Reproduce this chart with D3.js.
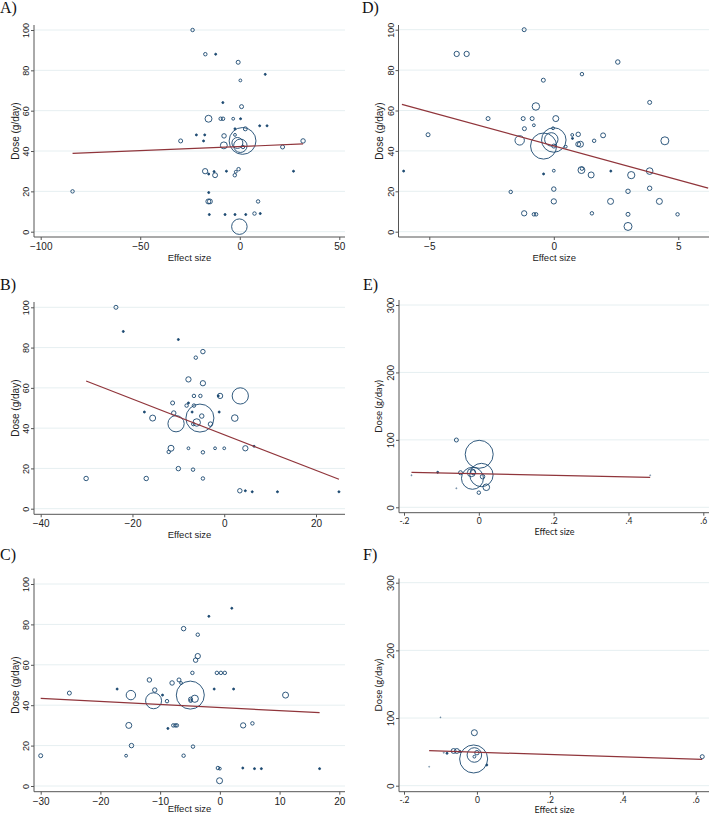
<!DOCTYPE html>
<html>
<head>
<meta charset="utf-8">
<script src="https://cdn.jsdelivr.net/npm/d3@7"></script>
<style>
  body { margin: 0; background: #fff; }
  svg { display: block; }
</style>
</head>
<body>
<svg id="chart" width="709" height="814"></svg>
<script>
// points: [effect size, dose, weight]  (weight -> circle area)
var pointsA = [
  [-23.7,100,3],[-17.3,88,3],[-12.1,88,1],[-0.8,84,4],[12.8,78,1],[0.3,75,2],[-8.5,64,1],[0.9,62,4],
  [-15.7,56,12],[-9.6,56,3],[-8.4,56,3],[-3.3,56,2],[0.4,56,1],[-21.8,48,1],[-17.6,48,1],[-18.2,45,1],
  [-29.7,45,4],[-2.4,51,1],[2.8,51,4],[10,52.5,1],[13.7,52.5,1],[-7.9,47.5,5],[-2.4,48,2],[-8,42.8,12],
  [-1.2,44,30],[0.3,42.6,45],[1.4,45,180],[1.6,42,3],[21.5,42,4],[31.8,45,5],[-17.4,30,7],[-15.6,28.6,1],
  [-12.9,29.8,1],[-12.4,28,6],[-6.7,30,1],[-2.5,28,3],[-2,29.7,2],[-0.6,31,3],[27,30,1],[-84,20,3],
  [-15.6,19.4,1],[-15.8,15,6],[-15,15,6],[9.2,15,3],[-15.3,8.5,1],[-7.4,8.5,1],[-2.4,8.5,1],[3,8.5,1],
  [7.4,9,3],[10.3,9,1],[-0.2,2.5,60]
];
var fitA_x = [-84, 31.8], fitA_y = [38.8, 43.5];

var pointsB = [
  [-23.6,100,4],[-22,88,1],[-10,84,1],[-4.65,78,5],[-6.2,75,3],[-7.8,64.2,7],[-4.65,62.3,7],[-6.6,56,3],
  [-5.2,56,3],[-1.3,56,1],[-0.9,56,7],[3.5,56,66],[-11.25,52.5,4],[-7.8,52.5,1],[-8.2,51.2,3],[-6.6,51.2,3],
  [-17.4,48,1],[-1.1,48,1],[-11,47.5,5],[-7,48,1],[-15.6,45,9],[-10.5,42.2,66],[-5.3,45,196],[-6,42.8,14],
  [-4.9,46,5],[-6.75,42,3],[-3,42,5],[2.3,45,11],[-11.6,30,9],[-12.1,28.2,3],[-7.8,30,2],[-2,30,2],
  [0,30,2],[4.6,30,7],[6.5,31,1],[-4.65,28,3],[-10,19.9,5],[-6.8,19.4,3],[-30.1,15,5],[-17,15,5],
  [-4.65,15,3],[3.4,8.9,5],[4.6,8.9,1],[6.1,8.4,1],[11.6,8.4,1],[25,8.4,1]
];
var fitB_x = [-30.1, 25], fitB_y = [63.4, 14.6];

var pointsC = [
  [2,88,1],[-1.84,84,1],[-6.07,77.9,5],[-3.7,74.9,3],[-3.7,64.3,7],[-4.06,62.3,5],[-4.6,56,3],[-0.5,56,3],
  [0.17,56,3],[0.83,56,3],[-11.8,52.5,5],[-6.84,52.5,4],[-8,51,5],[-6.5,51,2],[-17.2,48,1],[-0.95,48,1],
  [2.3,48,1],[-10.9,47.5,5],[-25.2,46,4],[-14.9,45,22],[-11.1,42.2,64],[-4.95,45,196],[-4.2,43.2,13],
  [-4.9,43,4],[-4.9,42.2,3],[-9.6,45,1],[-8.85,42,3],[11,45,9],[-15.25,30,9],[-8.7,28.5,1],[-7.8,30,3],
  [-7.45,30,3],[-7.2,30,3],[3.9,30,7],[5.45,31,3],[-14.8,20,5],[-4.5,19.5,3],[-30,15,4],[-15.7,15,2],
  [-6.07,15,3],[-0.33,8.9,3],[0,8.6,2],[3.84,8.9,1],[5.8,8.6,1],[6.95,8.6,1],[16.7,8.6,1],[-0.05,2.6,9]
];
var fitC_x = [-30, 16.7], fitC_y = [43.4, 36.3];

var pointsD = [
  [-1.19,100,4],[-3.9,88,7],[-3.5,88,7],[2.57,84,5],[1.13,78,3],[-0.42,75,4],[3.85,64,4],[-0.72,62,14],
  [-2.64,56,4],[-1.23,56,4],[-0.87,56,4],[0.08,56,9],[-1.18,51,4],[-0.8,52.7,2],[-0.03,51.2,2],[-5.05,48,4],
  [-6.03,30,1],[-1.37,45.2,22],[-0.41,42.4,170],[0,45.4,150],[-0.1,45.7,45],[0,42.4,4],[0.48,42.1,2],
  [0.74,47.9,2],[0.98,48.2,5],[0.75,46.2,1],[0.98,43.3,6],[1.07,43.3,9],[1.62,45,3],[1.98,47.7,6],
  [1.11,30.5,12],[1.13,31.2,3],[1.5,28.1,9],[-0.41,28.6,1],[0,30.2,2],[-1.73,19.7,3],[0,21.1,5],
  [2.29,30,1],[3.11,28,13],[3.85,30,11],[3.85,21.5,5],[2.98,20,5],[0,15,7],[2.28,15,9],[4.24,15,9],
  [-1.19,9.1,7],[-0.8,8.6,3],[-0.71,8.6,3],[1.53,9.1,3],[2.98,8.6,4],[4.97,8.6,3],[2.98,2.6,16],[4.46,45,16]
];
var fitD_x = [-6.1, 6.2], fitD_y = [63, 21.6];

var pointsE = [
  [-0.06,99.8,4],[0.001,78.6,196],[0.007,47.9,136],[-0.017,43,121],[-0.02,51.3,16],[-0.015,52,6],
  [0.01,45.4,5],[0.02,29.7,11],[0,21.7,3],[-0.049,51.3,4],[-0.11,51.9,1],[-0.18,47.5,0.4],
  [-0.06,28.2,0.4],[0.458,47.5,0.3]
];
var fitE_x = [-0.18, 0.458], fitE_y = [51.9, 44.5];

var pointsF = [
  [-0.1,101,0.3],[-0.007,78.3,9],[-0.064,51.3,6],[-0.055,51.3,6],[-0.046,50.5,1],[-0.082,47.9,1],
  [-0.091,48.8,0.4],[-0.131,28,0.3],[-0.009,39.5,196],[-0.007,45.4,53],[0,48.8,5],[-0.007,42.9,2],
  [0.027,30.6,1],[0.618,42.9,4]
];
var fitF_x = [-0.131, 0.618], fitF_y = [51.7, 38.9];

// tick labels
var xTicksA = [-100, -50, 0, 50];
var xTicksB = [-40, -20, 0, 20];
var xTicksC = [-30, -20, -10, 0, 10, 20];
var xTicksD = [-5, 0, 5];
var xTicksEF = [-0.2, 0, 0.2, 0.4, 0.6];
var yTicks100 = [0, 20, 40, 60, 80, 100];
var yTicks300 = [0, 100, 200, 300];

var svg = d3.select("#chart");
svg.append("rect").attr("width", 709).attr("height", 814).attr("fill", "#fff");

var navy = "#1a476f", cranberry = "#90353b", grid = "#e6eff1", axisCol = "#555";
var r = d3.scaleSqrt().domain([0, 196]).range([0, 14]);

// stata style: -.2 / .4
var fmtDot = function(d) { return d === 0 ? "0" : String(+d.toFixed(2)).replace(/^(-?)0\./, "$1."); };

// positions of each panel (plot box + where two ticks fall)
var panels = [
  {label: "A)", pts: pointsA, fx: fitA_x, fy: fitA_y, xt: xTicksA, yt: yTicks100, fmt: null,
   xd: [-100, 50], xr: [40.7, 339.3], yd: [0, 100], yr: [231.7, 30], box: [34, 345, 25, 237], lab: [0, 13], font: "Liberation Sans"},
  {label: "D)", pts: pointsD, fx: fitD_x, fy: fitD_y, xt: xTicksD, yt: yTicks100, fmt: null,
   xd: [-5, 5], xr: [429.3, 678.3], yd: [0, 100], yr: [231.7, 29.7], box: [398.5, 710, 25, 237], lab: [362, 13], font: "Liberation Sans"},
  {label: "B)", pts: pointsB, fx: fitB_x, fy: fitB_y, xt: xTicksB, yt: yTicks100, fmt: null,
   xd: [-40, 20], xr: [40.7, 316], yd: [0, 100], yr: [508.7, 307.3], box: [34, 345, 302, 514.3], lab: [0, 290], font: "Liberation Sans"},
  {label: "E)", pts: pointsE, fx: fitE_x, fy: fitE_y, xt: xTicksEF, yt: yTicks300, fmt: fmtDot,
   xd: [-0.2, 0.6], xr: [404, 703.3], yd: [0, 300], yr: [507.3, 305], box: [399, 710, 300, 512.7], lab: [363, 290], font: "Lato"},
  {label: "C)", pts: pointsC, fx: fitC_x, fy: fitC_y, xt: xTicksC, yt: yTicks100, fmt: null,
   xd: [-30, 20], xr: [40.7, 339.3], yd: [0, 100], yr: [786, 584], box: [34, 345, 578.5, 791.7], lab: [0, 560], font: "Liberation Sans"},
  {label: "F)", pts: pointsF, fx: fitF_x, fy: fitF_y, xt: xTicksEF, yt: yTicks300, fmt: fmtDot,
   xd: [-0.2, 0.6], xr: [404, 695.7], yd: [0, 300], yr: [785.7, 582.7], box: [399, 710, 578.5, 791.7], lab: [363, 560], font: "Lato"}
];

panels.forEach(function(p) {
  var L = p.box[0], R = p.box[1], T = p.box[2], B = p.box[3];
  var lato = p.font === "Lato";
  var x = d3.scaleLinear().domain(p.xd).range(p.xr);
  var y = d3.scaleLinear().domain(p.yd).range(p.yr);
  var g = svg.append("g").style("font-family", p.font);

  // panel letter
  svg.append("text").attr("x", p.lab[0]).attr("y", p.lab[1])
    .style("font-family", "Liberation Serif").style("font-size", "16px").attr("fill", "#111")
    .text(p.label);

  // gridlines
  g.selectAll(".grid").data(p.yt).enter().append("line")
    .attr("x1", L).attr("x2", R)
    .attr("y1", function(d) { return y(d); }).attr("y2", function(d) { return y(d); })
    .attr("stroke", grid).attr("stroke-width", 1);

  // x axis
  var ax = g.append("g").attr("transform", "translate(0," + B + ")")
    .call(d3.axisBottom(x).tickValues(p.xt).tickSize(3).tickPadding(lato ? 2 : 3)
      .tickFormat(p.fmt || d3.format("d")));
  ax.select(".domain").remove();
  ax.selectAll("line").attr("stroke", axisCol);
  ax.selectAll("text").attr("fill", "#222").style("font-size", lato ? "8.5px" : "10px")
    .style("font-family", p.font);
  g.append("line").attr("x1", L).attr("x2", R).attr("y1", B).attr("y2", B).attr("stroke", axisCol);

  // y axis
  var ay = g.append("g").attr("transform", "translate(" + L + ",0)")
    .call(d3.axisLeft(y).tickValues(p.yt).tickSize(3).tickFormat(d3.format("d")));
  ay.select(".domain").remove();
  ay.selectAll("line").attr("stroke", axisCol);
  ay.selectAll("text")
    .attr("transform", "rotate(-90)")
    .attr("x", 0).attr("y", -5).attr("dy", 0)
    .attr("text-anchor", "middle")
    .attr("fill", "#222").style("font-size", "9px").style("font-family", p.font);
  g.append("line").attr("x1", L).attr("x2", L).attr("y1", T).attr("y2", B).attr("stroke", axisCol);

  // axis titles (bottom row sits on the page edge, keep it inside)
  var ty = Math.min(B + (lato ? 22 : 24), lato ? 813 : 812);
  g.append("text").attr("x", (L + R) / 2).attr("y", ty)
    .attr("text-anchor", "middle").attr("fill", "#222")
    .style("font-size", lato ? "9px" : "9.5px").text("Effect size");
  g.append("text")
    .attr("transform", "translate(" + (L - (lato ? 17 : 15.5)) + "," + ((T + B) / 2) + ") rotate(-90)")
    .attr("text-anchor", "middle").attr("fill", "#222")
    .style("font-size", lato ? "9.5px" : "10px").text("Dose (g/day)");

  // weighted markers
  g.selectAll(".pt").data(p.pts).enter().append("circle")
    .attr("cx", function(d) { return x(d[0]); })
    .attr("cy", function(d) { return y(d[1]); })
    .attr("r", function(d) { return r(d[2]); })
    .attr("fill", function(d) { return r(d[2]) < 1.3 ? navy : "none"; })
    .attr("fill-opacity", function(d) { return d[2] < 0.5 ? 0.4 : 1; })
    .attr("stroke", navy)
    .attr("stroke-opacity", function(d) { return d[2] < 0.5 ? 0.4 : 1; })
    .attr("stroke-width", 0.9);

  // fitted line
  var fit = p.fx.map(function(v, i) { return [v, p.fy[i]]; });
  g.append("path").datum(fit)
    .attr("d", d3.line().x(function(d) { return x(d[0]); }).y(function(d) { return y(d[1]); }))
    .attr("fill", "none").attr("stroke", cranberry).attr("stroke-width", 1.2);
});
</script>
</body>
</html>
